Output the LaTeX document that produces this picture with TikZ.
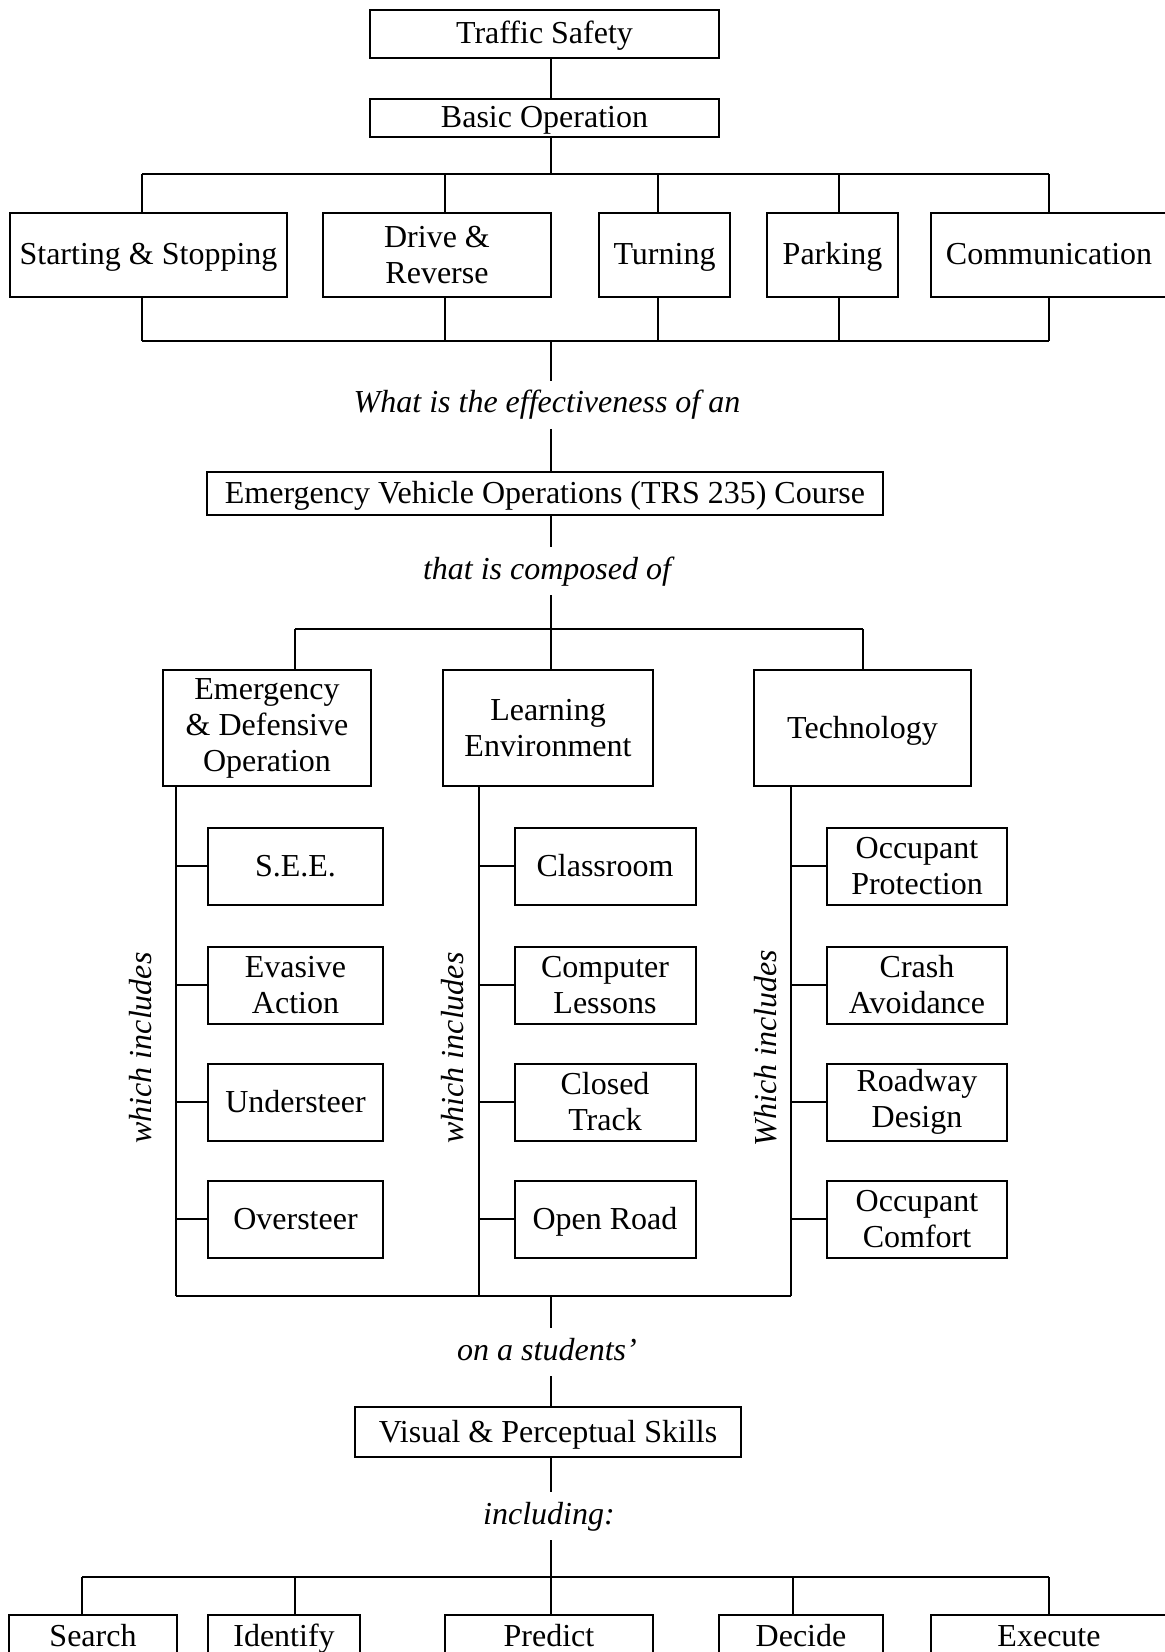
\documentclass[tikz,border=0pt]{standalone}
\usepackage{fontspec}
\setmainfont{Liberation Serif}
\usepackage{tikz}

\tikzset{
  cbox/.style = {draw, line width = 1pt, inner sep = 0pt, align = center,
                 font = \fontsize{16}{18}\selectfont},
  sl/.style = {text height = 12pt, text depth = 2pt},
  ibox/.style = {cbox, minimum height = 38.5pt},
  qtext/.style = {inner xsep = 2pt, inner ysep = 4.5pt, text height = 11pt, text depth = 3pt,
                  font = \fontsize{16}{18}\selectfont\itshape},
  side/.style = {rotate = 90, font = \fontsize{16}{18}\selectfont\itshape},
}

\begin{document}
\begin{tikzpicture}[x = 0.5pt, y = -0.5pt, line width = 1pt]
	\useasboundingbox (0,0) rectangle (1164,1652);
	\coordinate (spine) at (551,0);

	% top: traffic safety and basic operation
	\begin{scope}
		\node [cbox, sl, minimum width = 174.5pt, minimum height = 24pt] (ts) at (544.5,34) {Traffic Safety};
		\node [cbox, sl, minimum width = 174.5pt, minimum height = 19pt] (basic) at (544.5,118) {Basic Operation};

		\node [cbox, sl, minimum width = 138.5pt, minimum height = 42pt] (start) at (148.5,255) {Starting \& Stopping};
		\node [cbox, minimum width = 114pt, minimum height = 42pt] (drive) at (437,255) {Drive \&\\Reverse};
		\node [cbox, sl, minimum width = 65.5pt, minimum height = 42pt] (turn) at (664.5,255) {Turning};
		\node [cbox, sl, minimum width = 65.5pt, minimum height = 42pt] (park) at (832.5,255) {Parking};
		\node [cbox, sl, minimum width = 118pt, minimum height = 42pt] (comm) at (1049,255) {Communication};

		\foreach \n/\x in {start/142, drive/445, turn/658, park/839, comm/1049} {
			\coordinate (t-\n) at (\x,174);
			\coordinate (b-\n) at (\x,341);
			\draw (t-\n) -- (t-\n |- \n.north);
			\draw (b-\n) -- (b-\n |- \n.south);
		}
		\draw (ts.south -| spine) -- (basic.north -| spine);
		\draw (basic.south -| spine) -- (spine |- t-start);
		\draw (t-start) -- (t-comm);
		\draw (b-start) -- (b-comm);
	\end{scope}

	% course
	\begin{scope}
		\node [qtext] (q1) at (547,405) {What is the effectiveness of an};
		\node [cbox, sl, minimum width = 338pt, minimum height = 21.5pt] (evo) at (545,493.5) {Emergency Vehicle Operations (TRS 235) Course};
		\node [qtext] (q2) at (547,571) {that is composed of};

		\draw (spine |- b-start) -- (spine |- q1.north);
		\draw (spine |- q1.south) -- (spine |- evo.north);
		\draw (spine |- evo.south) -- (spine |- q2.north);
	\end{scope}

	% three branches
	\begin{scope}
		\node [cbox, minimum width = 104pt, minimum height = 58pt] (emerg) at (267,728) {Emergency\\\& Defensive\\Operation};
		\node [cbox, minimum width = 105pt, minimum height = 58pt] (learn) at (548,728) {Learning\\Environment};
		\node [cbox, sl, minimum width = 108.5pt, minimum height = 58pt] (tech) at (862.5,728) {Technology};

		\foreach \n/\x/\k in {emerg/295/176, learn/551/479, tech/863/791} {
			\coordinate (m-\n) at (\x,629);
			\coordinate (k-\n) at (\k,1296);
			\draw (m-\n) -- (m-\n |- \n.north);
			\draw (k-\n |- \n.south) -- (k-\n);
		}
		\draw (spine |- q2.south) -- (spine |- m-learn);
		\draw (m-emerg) -- (m-tech);
		\draw (k-emerg) -- (k-tech);

		\foreach \t/\s/\y [count = \i] in {S.E.E./sl/866, Evasive\\Action//985, Understeer/sl/1102, Oversteer/sl/1219}
			\node [ibox, \s, minimum width = 87.5pt] (e\i) at (295.5,\y) {\t};
		\foreach \t/\s/\y [count = \i] in {Classroom/sl/866, Computer\\Lessons//985, Closed\\Track//1102, Open Road/sl/1219}
			\node [ibox, \s, minimum width = 90.5pt] (l\i) at (605,\y) {\t};
		\foreach \t/\y [count = \i] in {Occupant\\Protection/866, Crash\\Avoidance/985, Roadway\\Design/1102, Occupant\\Comfort/1219}
			\node [ibox, minimum width = 90pt] (g\i) at (917,\y) {\t};

		\foreach \i in {1,...,4} {
			\draw (k-emerg |- e\i.west) -- (e\i.west);
			\draw (k-learn |- l\i.west) -- (l\i.west);
			\draw (k-tech |- g\i.west) -- (g\i.west);
		}

		\node [side] (w1) at (141,1048) {which includes};
		\node [side] (w2) at (453,1048) {which includes};
		\node [side] (w3) at (766,1048) {Which includes};
	\end{scope}

	% skills
	\begin{scope}
		\node [qtext] (q3) at (547,1352) {on a students'};
		\node [cbox, sl, minimum width = 193pt, minimum height = 25pt] (visual) at (548,1432) {Visual \& Perceptual Skills};
		\node [qtext] (q4) at (549,1516) {including:};

		\node [cbox, sl, minimum width = 84pt, minimum height = 21pt] (search) at (93,1636) {Search};
		\node [cbox, sl, minimum width = 76pt, minimum height = 21pt] (identify) at (284,1636) {Identify};
		\node [cbox, sl, minimum width = 104pt, minimum height = 21pt] (predict) at (549,1636) {Predict};
		\node [cbox, sl, minimum width = 82pt, minimum height = 21pt] (decide) at (801,1636) {Decide};
		\node [cbox, sl, minimum width = 118pt, minimum height = 21pt] (execute) at (1049,1636) {Execute};

		\foreach \n/\x in {search/82, identify/295, predict/551, decide/793, execute/1049} {
			\coordinate (s-\n) at (\x,1577);
			\draw (s-\n) -- (s-\n |- \n.north);
		}
		\draw (spine |- k-emerg) -- (spine |- q3.north);
		\draw (spine |- q3.south) -- (spine |- visual.north);
		\draw (spine |- visual.south) -- (spine |- q4.north);
		\draw (spine |- q4.south) -- (spine |- s-search);
		\draw (s-search) -- (s-execute);
	\end{scope}
\end{tikzpicture}
\end{document}
